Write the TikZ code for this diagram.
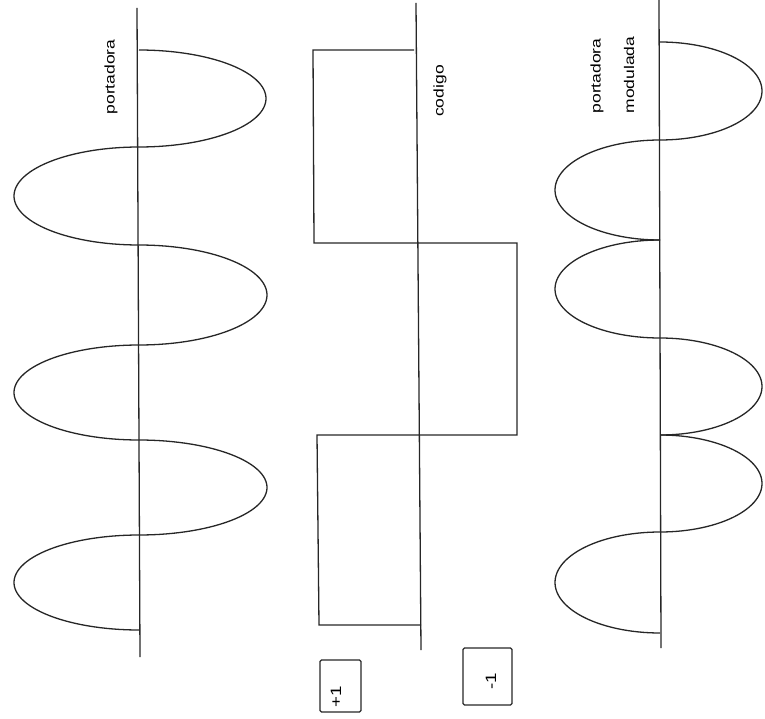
\documentclass[tikz,border=0pt]{standalone}
\usepackage{fontspec}
\newfontfamily\lblfont[FakeStretch=1.25]{Liberation Sans}
\begin{document}
\begin{tikzpicture}[x=1pt,y=-1pt,
  axis/.style={line width=1.3pt,black!85},
  wave/.style={line width=1.3pt,black!85},
  lbl/.style={rotate=90,inner sep=0pt,font=\lblfont\fontsize{14}{17}\selectfont},
  valbox/.style={draw,line width=1.2pt,black!85,rounded corners=1.5pt},
  vallbl/.style={rotate=90,inner sep=0pt,font=\lblfont\fontsize{15}{17}\selectfont}]
\useasboundingbox (0,0) rectangle (765,719);
% carrier: half-ellipse lobes (start y, length, signed amplitude)
\draw[axis] (137,8) -- (140,657);
\foreach \ys/\h/\a in {50/97/127, 147/98/-125, 245/100/128, 345/95/-125, 440/95/128, 535/95/-125}
  \draw[wave] plot[domain=0:180,samples=60,variable=\t] ({139+\a*sin(\t)},{\ys+\h/2*(1-cos(\t))});
\node[lbl] (lp) at (111,77) {portadora};
% code
\draw[axis] (416,3) -- (421,650);
\draw[wave] (414,50) -- (313,50) -- (314,243) -- (517,243) -- (517,435) -- (317,435) -- (319,625) -- (421,625);
\node[lbl] (lc) at (440,91) {codigo};
% modulated carrier
\draw[axis] (659,0) -- (661,648);
\foreach \ys/\h/\a in {42/98/102, 140/100/-105, 240/98/-105, 338/97/102, 435/97/102, 532/101/-105}
  \draw[wave] plot[domain=0:180,samples=60,variable=\t] ({660+\a*sin(\t)},{\ys+\h/2*(1-cos(\t))});
\node[lbl] (lm1) at (597,76) {portadora};
\node[lbl] (lm2) at (629,75) {modulada};
% value boxes
\draw[valbox] (320,660) rectangle (361,712);
\node[vallbl] (vp) at (336,697) {+1};
\draw[valbox] (463,648) rectangle (512,705);
\node[vallbl] (vm) at (491,681) {-1};
\end{tikzpicture}
\end{document}
